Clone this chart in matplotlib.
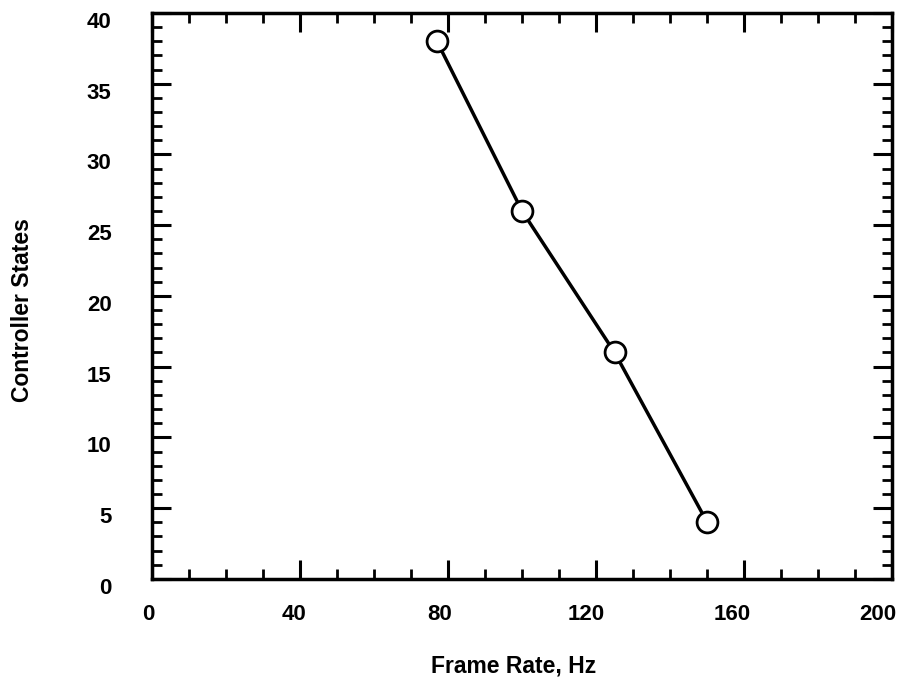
import numpy as np
import matplotlib.pyplot as plt
import matplotlib.transforms as mtrans
from matplotlib.ticker import MultipleLocator

plt.rcParams['font.family'] = ['Liberation Sans', 'DejaVu Sans']
plt.rcParams['font.weight'] = 'bold'

frame_rate = [77, 100, 125, 150]
states = [38, 26, 16, 4]

fig = plt.figure(figsize=(9.04, 6.81), dpi=100)
ax = fig.add_axes([0.168, 0.150, 0.819, 0.831])

ax.plot(frame_rate, states, color='black', lw=2.5, marker='o', ms=15,
        mfc='white', mec='black', mew=2, zorder=3)

ax.set_xlim(0, 200)
ax.set_ylim(0, 40)
ax.xaxis.set_major_locator(MultipleLocator(40))
ax.xaxis.set_minor_locator(MultipleLocator(10))
ax.yaxis.set_major_locator(MultipleLocator(5))
ax.yaxis.set_minor_locator(MultipleLocator(1))
ax.tick_params(which='both', direction='in', top=True, right=True,
               labelsize=16, color='black')
ax.tick_params(which='major', length=14, width=2.2)
ax.tick_params(which='minor', length=7, width=2)
ax.tick_params(axis='x', which='major', pad=18)
ax.tick_params(axis='y', which='major', pad=29)
for s in ax.spines.values():
    s.set_linewidth(2.5)

ax.set_xlabel('Frame Rate, Hz', fontsize=16.5, fontweight='bold', va='baseline')
ax.set_ylabel('Controller States', fontsize=16.5, fontweight='bold', va='center')
ax.xaxis.set_label_coords(0.488, -0.166)
ax.yaxis.set_label_coords(-0.175, 0.475)

# labels in the scan sit a little off their ticks
fig.canvas.draw()
for t in ax.xaxis.get_major_ticks():
    dx = -4 - 10 * t.get_loc() / 200
    off = mtrans.ScaledTranslation(dx / 100, 0, fig.dpi_scale_trans)
    t.label1.set_transform(t.label1.get_transform() + off)
for t in ax.yaxis.get_major_ticks():
    off = mtrans.ScaledTranslation(0, -7 / 100, fig.dpi_scale_trans)
    t.label1.set_transform(t.label1.get_transform() + off)

fig.savefig('out.png', dpi=100)
